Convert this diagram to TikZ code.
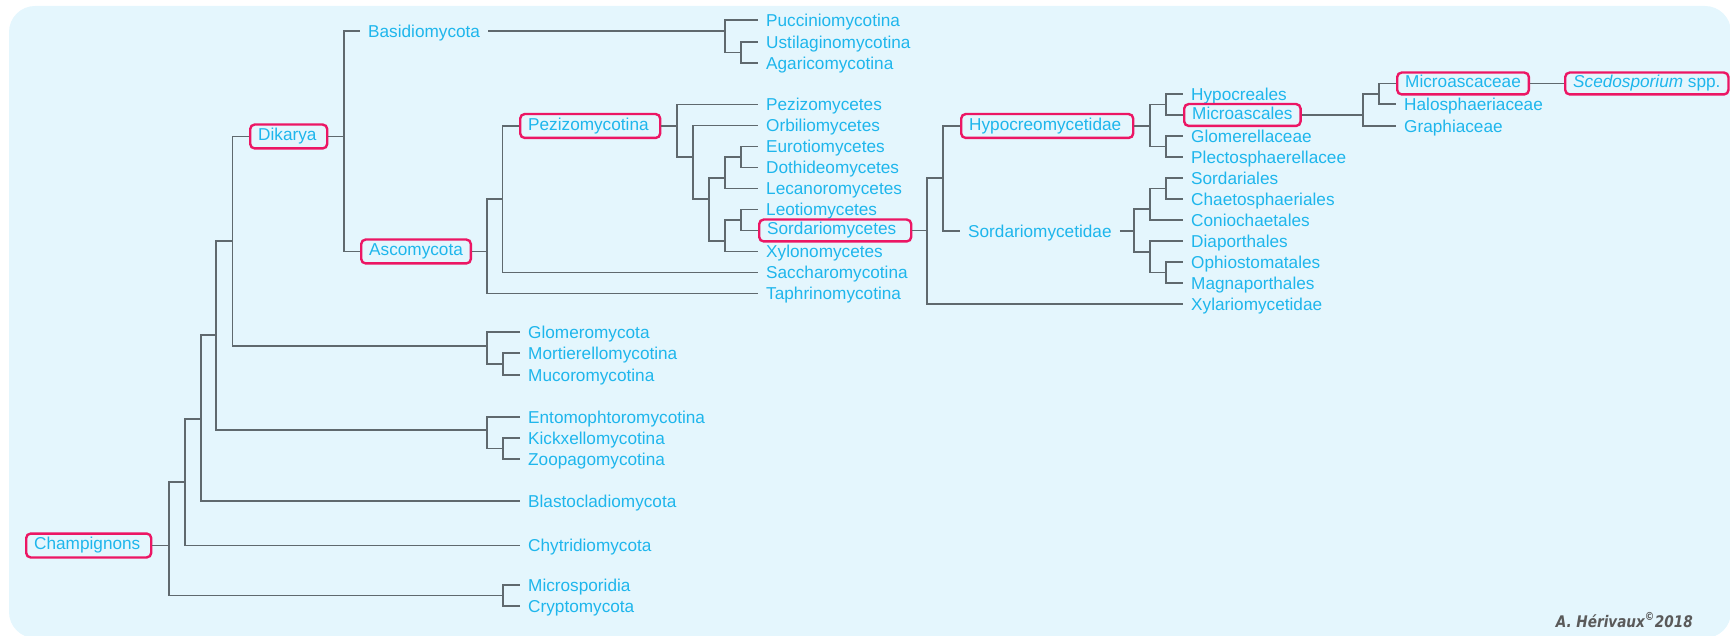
\documentclass[tikz,border=0pt]{standalone}
\usepackage{fontspec}
\setmainfont{Liberation Sans}
\newfontfamily\sigfont[FakeStretch=0.85]{DejaVu Sans}
\definecolor{bgc}{RGB}{228,246,253}
\definecolor{txt}{RGB}{30,182,236}
\definecolor{lnc}{RGB}{95,105,110}
\definecolor{boxc}{RGB}{236,22,100}
\definecolor{sigc}{RGB}{90,90,90}
\tikzset{
  lf/.style={anchor=west, inner xsep=8pt, inner ysep=1pt, text height=12.3pt, text depth=0pt, text=txt, font=\fontsize{17.2pt}{20pt}\selectfont},
  tbox/.style={lf, draw=boxc, line width=2.4pt, rounded corners=4.5pt, text depth=3.6pt, inner ysep=4pt, align=left},
  lbox/.style={tbox, inner ysep=3pt},
  br/.style={draw=lnc, line width=1.4pt},
}
\begin{document}
\begin{tikzpicture}[x=1pt,y=-1pt]
\useasboundingbox (0,0) rectangle (1730,636);
\clip (0,0) rectangle (1730,636);
\fill[bgc, rounded corners=26pt] (9,6) rectangle (1731,638);

% internal labels
\node[tbox, text width=109pt] (cham) at (25,545.5) {Champignons};
\node[tbox, text width=61pt] (dika) at (249,136.5) {Dikarya};
\node[lf] (basi) at (360,31) {Basidiomycota};
\node[tbox] (asco) at (360,251.5) {Ascomycota};
\node[tbox, text width=124pt] (pezi) at (519,126) {Pezizomycotina};
\node[tbox, text width=156pt] (hypc) at (960,126) {Hypocreomycetidae};
\node[lf] (sdae) at (960,231) {Sordariomycetidae};

% Basidiomycota leaves
\node[lf] (pucc) at (758,20) {Pucciniomycotina};
\node[lf] (usti) at (758,42) {Ustilaginomycotina};
\node[lf] (agar) at (758,63) {Agaricomycotina};

% Ascomycota leaves
\node[lf] (pezc) at (758,104.3) {Pezizomycetes};
\node[lf] (orbi) at (758,125.7) {Orbiliomycetes};
\node[lf] (euro) at (758,146.7) {Eurotiomycetes};
\node[lf] (doth) at (758,167.7) {Dothideomycetes};
\node[lf] (leca) at (758,188.7) {Lecanoromycetes};
\node[lf] (leot) at (758,209.3) {Leotiomycetes};
\node[lbox, text width=136pt] (sord) at (758,230.5) {Sordariomycetes};
\node[lf] (xylo) at (758,251.3) {Xylonomycetes};
\node[lf] (sacc) at (758,272.7) {Saccharomycotina};
\node[lf] (taph) at (758,293.3) {Taphrinomycotina};

% Sordariomycetes leaves
\node[lf] (hypo) at (1183,94) {Hypocreales};
\node[lbox] (micr) at (1183,115) {Microascales};
\node[lf] (glom) at (1183,136) {Glomerellaceae};
\node[lf] (plec) at (1183,157) {Plectosphaerellacee};
\node[lf] (sorl) at (1183,178) {Sordariales};
\node[lf] (chae) at (1183,199) {Chaetosphaeriales};
\node[lf] (coni) at (1183,220) {Coniochaetales};
\node[lf] (diap) at (1183,241) {Diaporthales};
\node[lf] (ophi) at (1183,262) {Ophiostomatales};
\node[lf] (magn) at (1183,283) {Magnaporthales};
\node[lf] (xyla) at (1183,304) {Xylariomycetidae};

% Microascales leaves
\node[lbox] (macc) at (1396,83.5) {Microascaceae};
\node[lf] (halo) at (1396,104) {Halosphaeriaceae};
\node[lf] (grap) at (1396,126) {Graphiaceae};
\node[lbox] (sced) at (1564,83.5) {{\itshape Scedosporium} spp.};

% lower leaves
\node[lf] (glmy) at (520,332) {Glomeromycota};
\node[lf] (mort) at (520,353) {Mortierellomycotina};
\node[lf] (muco) at (520,375) {Mucoromycotina};
\node[lf] (ento) at (520,417) {Entomophtoromycotina};
\node[lf] (kick) at (520,438) {Kickxellomycotina};
\node[lf] (zoop) at (520,459) {Zoopagomycotina};
\node[lf] (blas) at (520,501) {Blastocladiomycota};
\node[lf] (chyt) at (520,545.5) {Chytridiomycota};
\node[lf] (micsp) at (520,585) {Microsporidia};
\node[lf] (cryp) at (520,606) {Cryptomycota};

\node[anchor=base east, inner sep=0pt, text=sigc, font=\sigfont\bfseries\itshape\fontsize{16pt}{18pt}\selectfont] (sig) at (1693,627) {A. Hérivaux\textsuperscript{©}2018};

% junctions
\coordinate (J0) at (169,545.5);
\coordinate (J1) at (185,482);
\coordinate (J2) at (201,419);
\coordinate (J3) at (216,335);
\coordinate (J4) at (232.5,241);
\coordinate (Jglo) at (487,346);
\coordinate (Jgm) at (503,364);
\coordinate (Jent) at (487,430);
\coordinate (Jek) at (503,448.5);
\coordinate (Jmc) at (503,595.5);
\coordinate (Jdik) at (344,136.5);
\coordinate (Jbas) at (725,31);
\coordinate (Jua) at (741,52.5);
\coordinate (Jasc) at (487,251.5);
\coordinate (Jpz) at (502.5,199);
\coordinate (Jp1) at (677,126);
\coordinate (Jp2) at (693,157);
\coordinate (Jp3) at (709,199);
\coordinate (Jp4) at (725,178);
\coordinate (Jp6) at (741,157);
\coordinate (Jp5) at (725,241);
\coordinate (Jp7) at (741,220);
\coordinate (Js0) at (927,230.5);
\coordinate (Js1) at (943,178);
\coordinate (Jh) at (1150,126);
\coordinate (Jh1) at (1166,104.5);
\coordinate (Jh2) at (1166,146.5);
\coordinate (Jm) at (1363,115);
\coordinate (Jm1) at (1379,94);
\coordinate (Jsd) at (1134,231);
\coordinate (Jsd1) at (1150,209);
\coordinate (Jsd3) at (1166,188.5);
\coordinate (Jsd2) at (1150,252);
\coordinate (Jsd4) at (1166,272.5);

% connectors
\draw[br] (cham.east) -- (J0);
\draw[br] (J0) |- (J1);
\draw[br] (J0) |- (Jmc);
\draw[br] (J1) |- (J2);
\draw[br] (J1) |- (chyt.west);
\draw[br] (J2) |- (J3);
\draw[br] (J2) |- (blas.west);
\draw[br] (J3) |- (J4);
\draw[br] (J3) |- (Jent);
\draw[br] (J4) |- (dika.west);
\draw[br] (J4) |- (Jglo);
\draw[br] (Jglo) |- (glmy.west);
\draw[br] (Jglo) |- (Jgm);
\draw[br] (Jgm) |- (mort.west);
\draw[br] (Jgm) |- (muco.west);
\draw[br] (Jent) |- (ento.west);
\draw[br] (Jent) |- (Jek);
\draw[br] (Jek) |- (kick.west);
\draw[br] (Jek) |- (zoop.west);
\draw[br] (Jmc) |- (micsp.west);
\draw[br] (Jmc) |- (cryp.west);
\draw[br] (dika.east) -- (Jdik);
\draw[br] (Jdik) |- (basi.west);
\draw[br] (Jdik) |- (asco.west);
\draw[br] (basi.east) -- (Jbas);
\draw[br] (Jbas) |- (pucc.west);
\draw[br] (Jbas) |- (Jua);
\draw[br] (Jua) |- (usti.west);
\draw[br] (Jua) |- (agar.west);
\draw[br] (asco.east) -- (Jasc);
\draw[br] (Jasc) |- (Jpz);
\draw[br] (Jasc) |- (taph.west);
\draw[br] (Jpz) |- (pezi.west);
\draw[br] (Jpz) |- (sacc.west);
\draw[br] (pezi.east) -- (Jp1);
\draw[br] (Jp1) |- (pezc.west);
\draw[br] (Jp1) |- (Jp2);
\draw[br] (Jp2) |- (orbi.west);
\draw[br] (Jp2) |- (Jp3);
\draw[br] (Jp3) |- (Jp4);
\draw[br] (Jp3) |- (Jp5);
\draw[br] (Jp4) |- (Jp6);
\draw[br] (Jp4) |- (leca.west);
\draw[br] (Jp6) |- (euro.west);
\draw[br] (Jp6) |- (doth.west);
\draw[br] (Jp5) |- (Jp7);
\draw[br] (Jp5) |- (xylo.west);
\draw[br] (Jp7) |- (leot.west);
\draw[br] (Jp7) |- (sord.west);
\draw[br] (sord.east) -- (Js0);
\draw[br] (Js0) |- (Js1);
\draw[br] (Js0) |- (xyla.west);
\draw[br] (Js1) |- (hypc.west);
\draw[br] (Js1) |- (sdae.west);
\draw[br] (hypc.east) -- (Jh);
\draw[br] (Jh) |- (Jh1);
\draw[br] (Jh) |- (Jh2);
\draw[br] (Jh1) |- (hypo.west);
\draw[br] (Jh1) |- (micr.west);
\draw[br] (Jh2) |- (glom.west);
\draw[br] (Jh2) |- (plec.west);
\draw[br] (micr.east) -- (Jm);
\draw[br] (Jm) |- (Jm1);
\draw[br] (Jm) |- (grap.west);
\draw[br] (Jm1) |- (macc.west);
\draw[br] (Jm1) |- (halo.west);
\draw[br] (macc.east) -- (sced.west);
\draw[br] (sdae.east) -- (Jsd);
\draw[br] (Jsd) |- (Jsd1);
\draw[br] (Jsd) |- (Jsd2);
\draw[br] (Jsd1) |- (Jsd3);
\draw[br] (Jsd1) |- (coni.west);
\draw[br] (Jsd3) |- (sorl.west);
\draw[br] (Jsd3) |- (chae.west);
\draw[br] (Jsd2) |- (diap.west);
\draw[br] (Jsd2) |- (Jsd4);
\draw[br] (Jsd4) |- (ophi.west);
\draw[br] (Jsd4) |- (magn.west);
\end{tikzpicture}
\end{document}
